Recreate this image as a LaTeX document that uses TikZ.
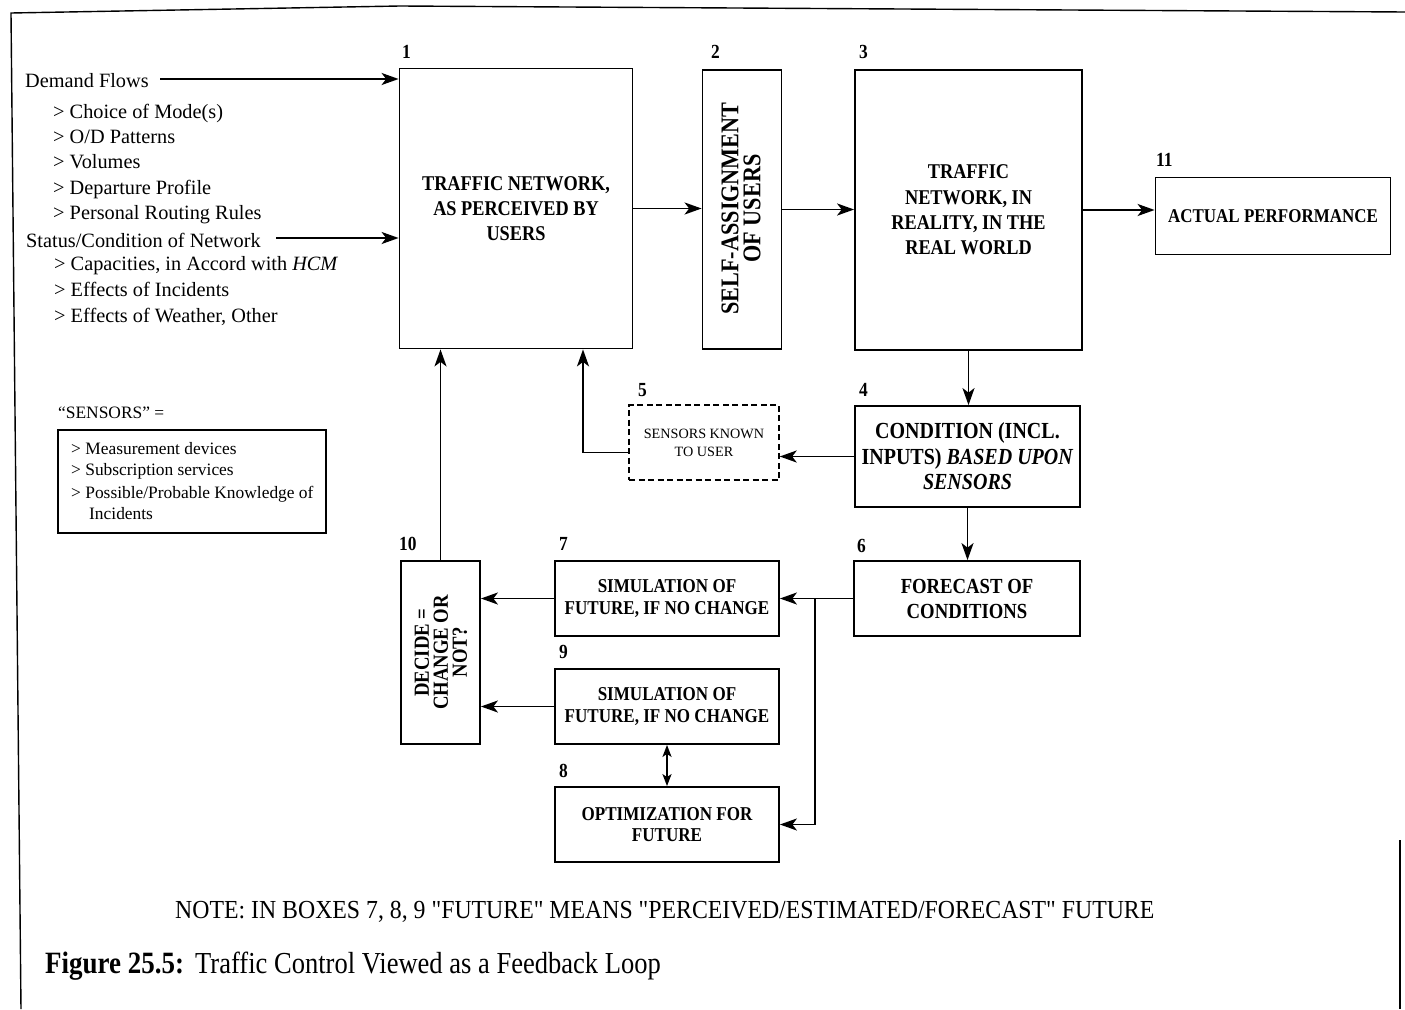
\documentclass[tikz,border=0pt]{standalone}
\usepackage{fontspec}
\setmainfont{Liberation Serif}
\newfontfamily\cf[FakeStretch=0.87]{Liberation Serif}
\newfontfamily\cfn[FakeStretch=0.915,Ligatures=TeXOff]{Liberation Serif}
\usetikzlibrary{arrows.meta}
\newcommand\fsz[2]{\fontsize{#1}{#2}\selectfont}
\begin{document}
\begin{tikzpicture}[x=1pt,y=-1pt,
  box/.style={draw, line width=1.8pt, inner sep=0pt, align=center},
  arr/.style={line width=1.9pt, -{Stealth[length=17pt,width=12pt,inset=4.5pt]}},
  darr/.style={line width=1.9pt, {Stealth[length=12pt,width=9pt,inset=3pt]}-{Stealth[length=12pt,width=9pt,inset=3pt]}},
  num/.style={anchor=base west, inner sep=0pt, font=\cf\bfseries\fsz{20}{20}},
  lt/.style={anchor=base west, inner sep=0pt, font=\fsz{20.3}{24}},
  st/.style={anchor=base west, inner sep=0pt, font=\fsz{17.4}{20}},
  rt/.style={rotate=90, inner sep=0pt, align=center}
]
\useasboundingbox (0,0) rectangle (1405,1009);
% frame
\draw[line width=1.4pt] (21,1009) -- (11,13) -- (400,6) -- (1405,12);
\draw[line width=1.4pt] (1400,840) -- (1400,1009);

% boxes
\node[box, minimum width=233pt, minimum height=280pt, font=\cf\bfseries\fsz{21}{25}] (b1) at (516,208.5) {TRAFFIC NETWORK,\\AS PERCEIVED BY\\USERS};
\node[box, minimum width=79pt, minimum height=279pt] (b2) at (742,209.5) {};
\node[rt, font=\cf\bfseries\fsz{25.5}{22}] (t2) at (741,208.5) {SELF-ASSIGNMENT\\OF USERS};
\node[box, minimum width=227pt, minimum height=280pt, font=\cf\bfseries\fsz{21}{25.3}] (b3) at (968.5,210) {TRAFFIC\\NETWORK, IN\\REALITY, IN THE\\REAL WORLD};
\node[box, minimum width=235pt, minimum height=77pt, font=\cf\bfseries\fsz{19.5}{24}] (b11) at (1273,216) {ACTUAL PERFORMANCE};
\node[box, minimum width=225pt, minimum height=101pt, font=\cf\bfseries\fsz{23}{25.5}] (b4) at (967.5,456.5) {CONDITION (INCL.\\INPUTS) \textit{BASED UPON}\\\textit{SENSORS}};
\node[box, dashed, dash pattern=on 6pt off 3.5pt, line width=1.4pt, minimum width=150pt, minimum height=75pt, font=\fsz{14.2}{18}] (b5) at (704,442.5) {SENSORS KNOWN\\TO USER};
\node[box, minimum width=226pt, minimum height=75pt, font=\cf\bfseries\fsz{21.5}{25}] (b6) at (967,598.5) {FORECAST OF\\CONDITIONS};
\node[box, minimum width=224pt, minimum height=75pt, font=\cf\bfseries\fsz{19.6}{21.5}] (b7) at (667,598.5) {SIMULATION OF\\FUTURE, IF NO CHANGE};
\node[box, minimum width=224pt, minimum height=75pt, font=\cf\bfseries\fsz{19.6}{21.5}] (b9) at (667,706.5) {SIMULATION OF\\FUTURE, IF NO CHANGE};
\node[box, minimum width=224pt, minimum height=75pt, font=\cf\bfseries\fsz{19.6}{21.5}] (b8) at (667,824.5) {OPTIMIZATION FOR\\FUTURE};
\node[box, minimum width=79pt, minimum height=183pt] (b10) at (440.5,652.5) {};
\node[rt, font=\cf\bfseries\fsz{21.5}{19}] (t10) at (441,652.5) {DECIDE =\\CHANGE OR\\NOT?};

% numbers
\node[num] (n1) at (402,58) {1};
\node[num] (n2) at (711,58) {2};
\node[num] (n3) at (859,58) {3};
\node[num] (n11) at (1156,166) {11};
\node[num] (n4) at (859,396) {4};
\node[num] (n5) at (638,396) {5};
\node[num] (n6) at (857,552) {6};
\node[num] (n7) at (559,550) {7};
\node[num] (n9) at (559,658) {9};
\node[num] (n8) at (559,777) {8};
\node[num] (n10) at (399,550) {10};

% left texts
\node[lt] (d0) at (25,87) {Demand Flows};
\node[lt] (d1) at (53,118) {> Choice of Mode(s)};
\node[lt] (d2) at (53,143) {> O/D Patterns};
\node[lt] (d3) at (53,168) {> Volumes};
\node[lt] (d4) at (53,194) {> Departure Profile};
\node[lt] (d5) at (53,219) {> Personal Routing Rules};
\node[lt] (d6) at (26,247) {Status/Condition of Network};
\node[lt] (d7) at (54,270) {> Capacities, in Accord with \textit{HCM}};
\node[lt] (d8) at (54,296) {> Effects of Incidents};
\node[lt] (d9) at (54,322) {> Effects of Weather, Other};
\coordinate (s0) at (160,79);
\coordinate (s1) at (276,238);

% sensors legend
\node[st] (sl) at (58,418) {“SENSORS” =};
\node[box, line width=1.3pt, minimum width=268pt, minimum height=103pt] (sb) at (192,481.5) {};
\node[st] (s2) at (71,454) {> Measurement devices};
\node[st] (s3) at (71,475.5) {> Subscription services};
\node[st] (s4) at (71,498) {> Possible/Probable Knowledge of};
\node[st] (s5) at (89,519.5) {Incidents};

% note and caption
\node[anchor=base west, inner sep=0pt, font=\cfn\fsz{26}{30}] (note) at (175,918) {NOTE: IN BOXES 7, 8, 9 "FUTURE" MEANS "PERCEIVED/ESTIMATED/FORECAST" FUTURE};
\node[anchor=base west, inner sep=0pt, font=\cf\bfseries\fsz{31}{31}] (cap1) at (45,973) {Figure 25.5:};
\node[anchor=base west, inner sep=0pt, font=\cf\fsz{30.5}{31}] (cap2) at (195,973) {Traffic Control Viewed as a Feedback Loop};

% connectors
\draw[arr] (s0) -- (s0 -| b1.west);
\draw[arr] (s1) -- (s1 -| b1.west);
\draw[arr] (b1.east) -- (b1.east -| b2.west);
\draw[arr] (b2.east) -- (b2.east -| b3.west);
\draw[arr] (b3.east) -- (b3.east -| b11.west);
\draw[arr] (b3.south) -- (b3.south |- b4.north);
\draw[arr] (b4.west) -- (b4.west -| b5.east);
\draw[arr] ([yshift=-10pt]b5.west) -| ([xshift=67pt]b1.south);
\draw[arr] (b10.north) -- (b10.north |- b1.south);
\draw[arr] (b4.south) -- (b4.south |- b6.north);
\coordinate (j) at (815,598.5);
\draw[arr] (b6.west) -- (b6.west -| b7.east);
\draw[arr] (j) |- (b8.east);
\draw[arr] (b7.west) -- (b7.west -| b10.east);
\draw[arr] (b9.west) -- (b9.west -| b10.east);
\draw[darr] (b9.south) -- (b8.north);
\end{tikzpicture}
\end{document}
